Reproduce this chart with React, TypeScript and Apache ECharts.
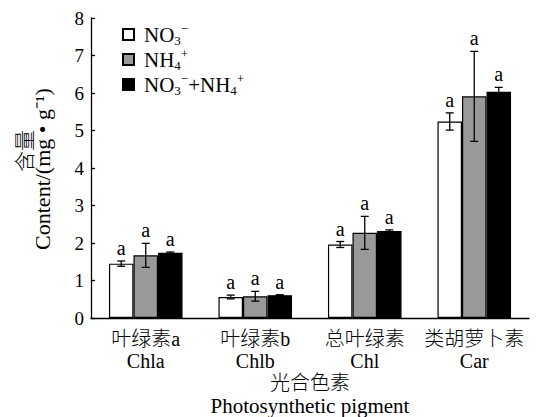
import React, { useEffect, useRef } from 'react';
import * as echarts from 'echarts';

const categoriesZh = ['叶绿素a', '叶绿素b', '总叶绿素', '类胡萝卜素'];
const categoriesEn = ['Chla', 'Chlb', 'Chl', 'Car'];
const seriesNames = ['NO3-', 'NH4+', 'NO3-+NH4+'];
const no3Values = [1.45, 0.56, 1.96, 5.24];
const no3Errors = [0.07, 0.05, 0.08, 0.23];
const nh4Values = [1.67, 0.58, 2.27, 5.91];
const nh4Errors = [0.32, 0.13, 0.44, 1.2];
const mixValues = [1.74, 0.61, 2.32, 6.03];
const mixErrors = [0.02, 0.01, 0.03, 0.12];
const no3Letters = ['a', 'a', 'a', 'a'];
const nh4Letters = ['a', 'a', 'a', 'a'];
const mixLetters = ['a', 'a', 'a', 'a'];
const yMin = 0;
const yMax = 8;
const yInterval = 1;

const SERIF = '"Liberation Serif", "Times New Roman", serif';
const CJK = '"Liberation Serif", "Noto Sans CJK SC", serif';
const BAR_FRAC = 0.224;
const COLORS = ['#ffffff', '#999999', '#000000'];

const legendRich: Record<string, string> = {
  'NO3-': '{m|NO}{sub|3}{sup|−}',
  'NH4+': '{m|NH}{sub|4}{sup|+}',
  'NO3-+NH4+': '{m|NO}{sub|3}{sup|−}{m|+NH}{sub|4}{sup|+}',
};

export default function App() {
  const ref = useRef<HTMLDivElement>(null);
  useEffect(() => {
    if (!ref.current) return;
    const chart = echarts.init(ref.current, null, { renderer: 'svg' });
    const values = [no3Values, nh4Values, mixValues];
    const errors = [no3Errors, nh4Errors, mixErrors];
    const letters = [no3Letters, nh4Letters, mixLetters];

    const barSeries = seriesNames.map((name, k) => ({
      name,
      type: 'bar',
      data: values[k],
      barWidth: (BAR_FRAC * 100).toFixed(1) + '%',
      barGap: '0%',
      itemStyle: { color: COLORS[k], borderColor: '#000', borderWidth: 1.2 },
      z: 2,
    }));

    const errSeries = seriesNames.map((name, k) => ({
      name: 'err' + k,
      type: 'custom',
      z: 5,
      data: values[k].map((v, i) => [i, v, errors[k][i]]),
      renderItem: (params: any, api: any) => {
        const cat = api.value(0);
        const v = api.value(1);
        const e = api.value(2);
        const band = api.size([1, 0])[0];
        const bw = band * BAR_FRAC;
        const off = (k - 1) * bw;
        const pTop = api.coord([cat, v + e]);
        const pBot = api.coord([cat, v - e]);
        const x = pTop[0] + off;
        const cap = 4;
        const ls = { stroke: '#000', lineWidth: 1.3 };
        return {
          type: 'group',
          children: [
            { type: 'line', shape: { x1: x, y1: pTop[1], x2: x, y2: pBot[1] }, style: ls },
            { type: 'line', shape: { x1: x - cap, y1: pTop[1], x2: x + cap, y2: pTop[1] }, style: ls },
            { type: 'line', shape: { x1: x - cap, y1: pBot[1], x2: x + cap, y2: pBot[1] }, style: ls },
            {
              type: 'text',
              x,
              y: pTop[1] - 3,
              style: {
                text: letters[k][params.dataIndex],
                fill: '#000',
                fontSize: 20,
                fontFamily: SERIF,
                textAlign: 'center',
                align: 'center',
                textVerticalAlign: 'bottom',
                verticalAlign: 'bottom',
              },
            },
          ],
        };
      },
    }));

    chart.setOption({
      animation: false,
      grid: { left: 91, right: 10, top: 18, bottom: 99 },
      legend: {
        data: seriesNames,
        orient: 'vertical',
        left: 122,
        top: 22,
        padding: 0,
        itemWidth: 11,
        itemHeight: 11,
        itemGap: 0,
        icon: 'rect',
        formatter: (name: string) => legendRich[name],
        textStyle: {
          color: '#000',
          fontFamily: SERIF,
          fontSize: 21,
          padding: [0, 0, 0, 5],
          rich: {
            m: { fontSize: 21, fontFamily: SERIF, color: '#000' },
            sub: { fontSize: 13, fontFamily: SERIF, color: '#000', padding: [12, 0, 0, 0] },
            sup: { fontSize: 13, fontFamily: SERIF, color: '#000', padding: [0, 0, 12, 0] },
          },
        },
        selectedMode: false,
      },
      xAxis: {
        type: 'category',
        data: categoriesZh.map((z, i) => z + '|' + categoriesEn[i]),
        axisLine: { lineStyle: { color: '#000', width: 1.3 } },
        axisTick: { inside: true, length: 4, lineStyle: { color: '#000', width: 1.3 } },
        axisLabel: {
          margin: 10,
          interval: 0,
          formatter: (val: string) => {
            const [z, e] = val.split('|');
            return '{zh|' + z + '}\n{en|' + e + '}';
          },
          rich: {
            zh: { fontSize: 20, fontFamily: CJK, fontWeight: 300, color: '#000', lineHeight: 22 },
            en: { fontSize: 20, fontFamily: SERIF, color: '#000', lineHeight: 22 },
          },
        },
      },
      yAxis: {
        type: 'value',
        min: yMin,
        max: yMax,
        interval: yInterval,
        splitLine: { show: false },
        axisLine: { show: true, lineStyle: { color: '#000', width: 1.3 } },
        axisTick: { show: true, inside: true, length: 4, lineStyle: { color: '#000', width: 1.3 } },
        axisLabel: { color: '#000', fontSize: 19, fontFamily: SERIF, margin: 7 },
      },
      graphic: [
        {
          type: 'text',
          x: 23,
          y: 151,
          rotation: Math.PI / 2,
          style: {
            text: '含量',
            fill: '#000',
            font: '300 21px "Noto Sans CJK SC"',
            textAlign: 'center',
            align: 'center',
            textVerticalAlign: 'middle',
            verticalAlign: 'middle',
          },
        },
        {
          type: 'text',
          x: 42,
          y: 169,
          rotation: Math.PI / 2,
          style: {
            text: 'Content/(mg • g⁻¹)',
            fill: '#000',
            font: '22px "Liberation Serif"',
            textAlign: 'center',
            align: 'center',
            textVerticalAlign: 'middle',
            verticalAlign: 'middle',
          },
        },
        {
          type: 'text',
          x: 310,
          y: 381,
          style: {
            text: '光合色素',
            fill: '#000',
            font: '300 20px "Noto Sans CJK SC"',
            textAlign: 'center',
            align: 'center',
            textVerticalAlign: 'middle',
            verticalAlign: 'middle',
          },
        },
        {
          type: 'text',
          x: 310,
          y: 406,
          style: {
            text: 'Photosynthetic pigment',
            fill: '#000',
            font: '21px "Liberation Serif"',
            textAlign: 'center',
            align: 'center',
            textVerticalAlign: 'middle',
            verticalAlign: 'middle',
          },
        },
      ],
      series: [...barSeries, ...errSeries],
    });
    return () => chart.dispose();
  }, []);
  return (
    <div
      ref={ref}
      style={{ position: 'fixed', left: 0, top: 0, width: 539, height: 417, background: '#fff' }}
    />
  );
}
